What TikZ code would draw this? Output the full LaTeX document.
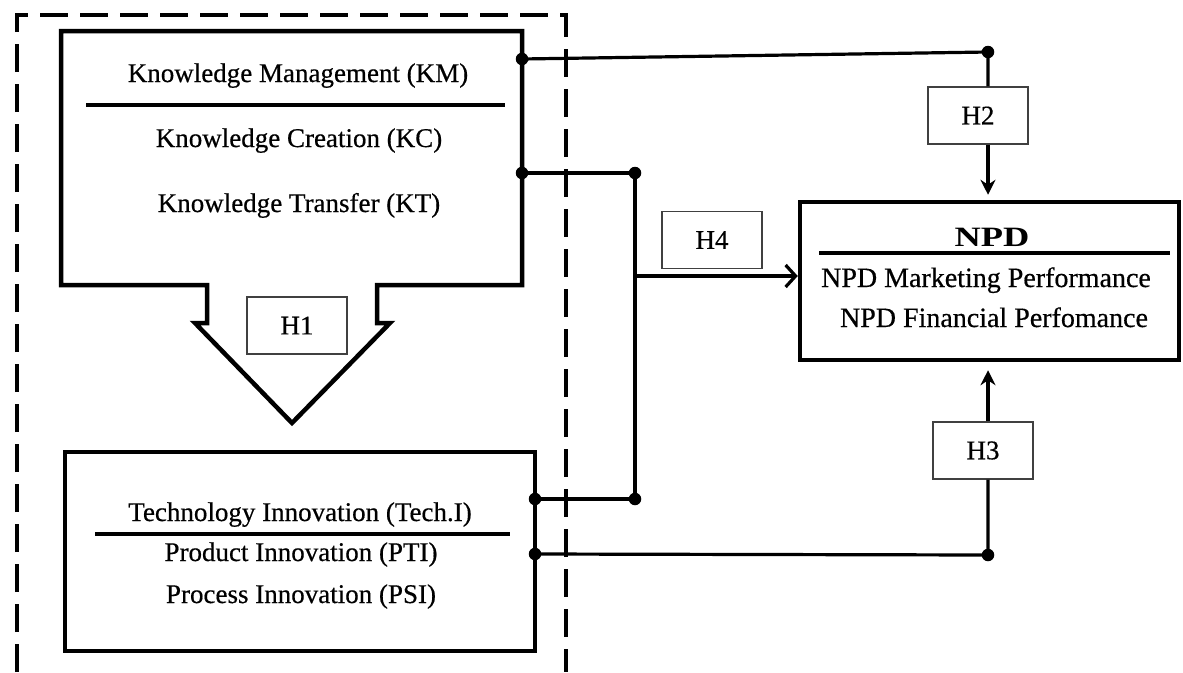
\documentclass[tikz,border=0pt]{standalone}
\usepackage{fontspec}
\setmainfont{Liberation Serif}
\newfontfamily\heavyserif[FakeBold=0.5]{Liberation Serif}
\usetikzlibrary{arrows.meta}
\begin{document}
\begin{tikzpicture}[x=1pt,y=-1pt,
  lbl/.style={anchor=base,inner sep=0pt,font=\heavyserif\fontsize{27}{30}\selectfont},
  hbox/.style={draw=black!75,line width=1.2pt,fill=white,minimum width=100pt,minimum height=57pt,inner sep=0pt,font=\heavyserif\fontsize{27}{30}\selectfont},
  thickbox/.style={draw,line width=4.5pt,inner sep=0pt},
  rulel/.style={line width=3.8pt},
  conn/.style={line width=3.2pt},
  dotc/.style={circle,fill=black,inner sep=0pt,minimum size=12.5pt},
  dashbox/.style={line width=3.5pt,dash pattern=on 28pt off 12pt},
  tipa/.style={-{Stealth[length=15pt,width=15pt,inset=5pt]}},
  tipb/.style={-{Straight Barb[length=10pt,width=22pt]}}]
\useasboundingbox (0,0) rectangle (1183,672);
% dashed frame
\draw[dashbox] (17,672) -- (17,15) -- (566,15) -- (566,672);
% KM arrow-shaped box
\draw[line width=4.5pt,line join=miter,fill=white] (61,31) -- (522,31) -- (522,285) -- (377,285) -- (377,323) -- (390,323)
  -- (292,423) -- (195,323) -- (207,323) -- (207,285) -- (61,285) -- cycle;
\node[lbl] (km) at (298,82) {Knowledge Management (KM)};
\draw[rulel] (86,105) -- (505,105);
\node[lbl] (kc) at (299,147) {Knowledge Creation (KC)};
\node[lbl] (kt) at (299,212) {Knowledge Transfer (KT)};
\node[hbox] (h1) at (297,325.5) {H1};
% innovation box
\node[thickbox,minimum width=470pt,minimum height=199pt] (tibox) at (300,551.5) {};
\node[lbl] (ti) at (300,521) {Technology Innovation (Tech.I)};
\draw[rulel] (95,534) -- (510,534);
\node[lbl] (pti) at (301,561) {Product Innovation (PTI)};
\node[lbl] (psi) at (301,603) {Process Innovation (PSI)};
% NPD box
\node[thickbox,minimum width=379pt,minimum height=158pt] (npd) at (989.5,281) {};
\node[lbl,font=\fontsize{28}{30}\selectfont\bfseries] (npdt) at (992,246) {\scalebox{1.3}[1]{NPD}};
\draw[line width=4.5pt] (819,253) -- (1170,253);
\node[lbl,font=\heavyserif\fontsize{28}{30}\selectfont] (mkt) at (986,287) {NPD Marketing Performance};
\node[lbl,font=\heavyserif\fontsize{28}{30}\selectfont] (fin) at (994,327) {NPD Financial Perfomance};
% hypothesis boxes
\node[hbox] (h2) at (978,115.5) {H2};
\node[hbox] (h3) at (983,450.5) {H3};
\node[hbox] (h4) at (712,240) {H4};
% junction dots
\node[dotc] (d1) at (522,59) {};
\node[dotc] (d2) at (988,52) {};
\node[dotc] (d3) at (522,173) {};
\node[dotc] (d4) at (635,173) {};
\node[dotc] (d5) at (535,499) {};
\node[dotc] (d6) at (635,499) {};
\node[dotc] (d7) at (535,554) {};
\node[dotc] (d8) at (988,555) {};
\coordinate (j4) at (635,276);
% connectors
\draw[conn] (d1.center) -- (d2.center) -- (d2.center |- h2.north);
\draw[conn,tipa,shorten >=5pt] (d2.center |- h2.south) -- (d2.center |- npd.north);
\draw[conn] (d3.center) -- (d4.center) -- (d6.center) -- (d5.center);
\draw[conn,tipb] (j4) -- (j4 -| npd.west);
\draw[conn] (d7.center) -- (d8.center) -- (d8.center |- h3.south);
\draw[conn,tipa,shorten >=8pt] (d8.center |- h3.north) -- (d8.center |- npd.south);
\end{tikzpicture}
\end{document}
